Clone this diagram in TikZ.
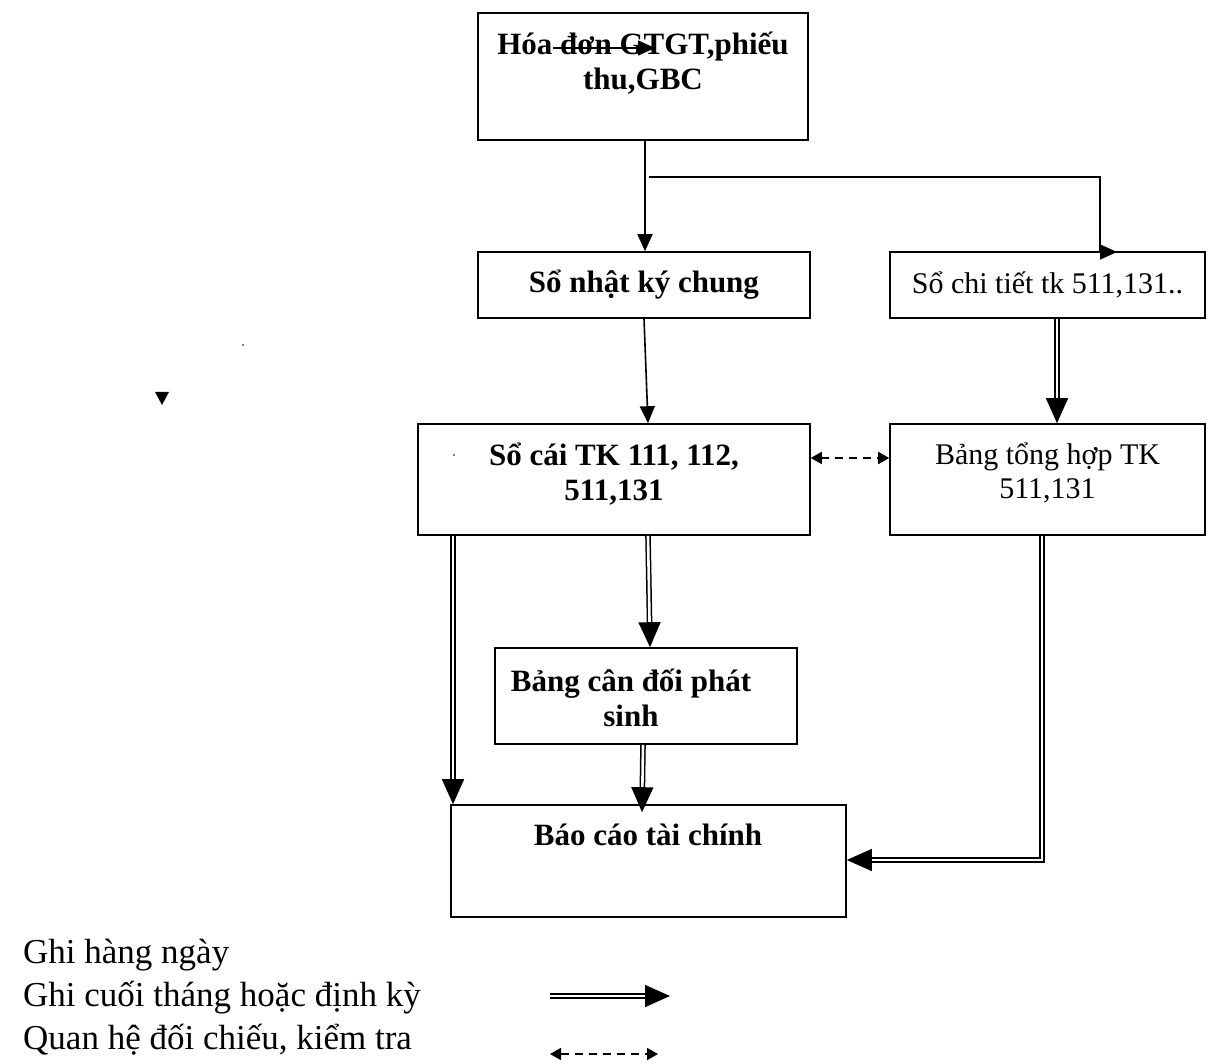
\documentclass[tikz,border=0pt]{standalone}
\usepackage{fontspec}
\setmainfont{Liberation Serif}
\usetikzlibrary{arrows.meta,calc}
\begin{document}
\begin{tikzpicture}[x=1pt,y=-1pt,
  box/.style={draw,line width=1.6pt,inner sep=0pt},
  btxt/.style={font=\fontsize{31}{35}\selectfont\bfseries,align=center,inner sep=0pt},
  rtxt/.style={font=\fontsize{30}{34}\selectfont,align=center,inner sep=0pt},
  legtxt/.style={font=\fontsize{35}{43}\selectfont,anchor=base west,inner sep=0pt},
  sarr/.style={line width=1.6pt,-{Triangle[length=17pt,width=15pt]}},
  darr/.style={double,double distance=2.6pt,line width=1.5pt,-{Triangle[length=25pt,width=22pt]}},
  dasharr/.style={line width=1.8pt,dash pattern=on 8pt off 6pt,{Triangle[length=11pt,width=12pt]}-{Triangle[length=11pt,width=12pt]}},
]
\useasboundingbox (0,0) rectangle (1227,1064);

% boxes
\node[box,minimum width=330pt,minimum height=127pt] (top) at (643,76.5) {};
\node[btxt] (topt) at (643,63) {Hóa đơn GTGT,phiếu\\thu,GBC};
\node[box,btxt,minimum width=332pt,minimum height=66pt] (nkc) at (644,285) {Sổ nhật ký chung};
\node[box,rtxt,minimum width=315pt,minimum height=66pt] (sct) at (1047.5,285) {Sổ chi tiết tk 511,131..};
\node[box,minimum width=392pt,minimum height=111pt] (soc) at (614,479.5) {};
\node[btxt] (soct) at (614,474) {Sổ cái TK 111, 112,\\511,131};
\node[box,minimum width=315pt,minimum height=111pt] (bth) at (1047.5,479.5) {};
\node[rtxt] (btht) at (1047.5,473) {Bảng tổng hợp TK\\511,131};
\node[box,minimum width=302pt,minimum height=96pt] (bcd) at (646,696) {};
\node[btxt] (bcdt) at (631,698) {Bảng cân đối phát\\sinh};
\node[box,minimum width=395pt,minimum height=112pt] (bctc) at (648.5,861) {};
\node[btxt] (bctct) at (648,835) {Báo cáo tài chính};

% stray marks
\coordinate (sa) at (553,48);
\coordinate (sb) at (655,48);
\draw[sarr] (sa) -- (sb);
\fill (155,392) -- (169,392) -- (162,405) -- cycle;
\fill (243,345) circle (0.8pt);
\fill (454,455) circle (0.8pt);

% connectors
\draw[sarr] ([xshift=2pt]top.south) -- ([xshift=1pt]nkc.north);
\coordinate (br) at (649,177);
\coordinate (bend) at (1100,252);
\draw[line width=1.6pt] (br) -- (bend |- br) -- (bend);
\draw[sarr] (bend) -- ++(17,0);
\draw[sarr] (nkc.south) -- ([xshift=34pt]soc.north);
\draw[darr] ([xshift=9.5pt]sct.south) -- ([xshift=9.5pt]bth.north);
\draw[dasharr] ([yshift=21.5pt]soc.east) -- ([yshift=21.5pt]bth.west);
\draw[darr] ([xshift=-161pt]soc.south) -- ([xshift=-195.5pt]bctc.north);
\draw[darr] ([xshift=34pt]soc.south) -- ([xshift=4pt]bcd.north);
\draw[darr] ([xshift=-3pt]bcd.south) -- ([xshift=-6.5pt,yshift=-8pt]bctc.north);
\draw[darr] ([xshift=-5.5pt]bth.south) |- ([yshift=1pt]bctc.east);

% legend
\node[legtxt] (leg1) at (23,963) {Ghi hàng ngày};
\node[legtxt] (leg2) at (23,1006) {Ghi cuối tháng hoặc định kỳ};
\node[legtxt] (leg3) at (23,1049) {Quan hệ đối chiếu, kiểm tra};
\coordinate (l1a) at (550,996);
\coordinate (l1b) at (670,996);
\draw[darr] (l1a) -- (l1b);
\coordinate (l2a) at (550,1054);
\coordinate (l2b) at (658,1054);
\draw[dasharr] (l2a) -- (l2b);
\end{tikzpicture}
\end{document}
